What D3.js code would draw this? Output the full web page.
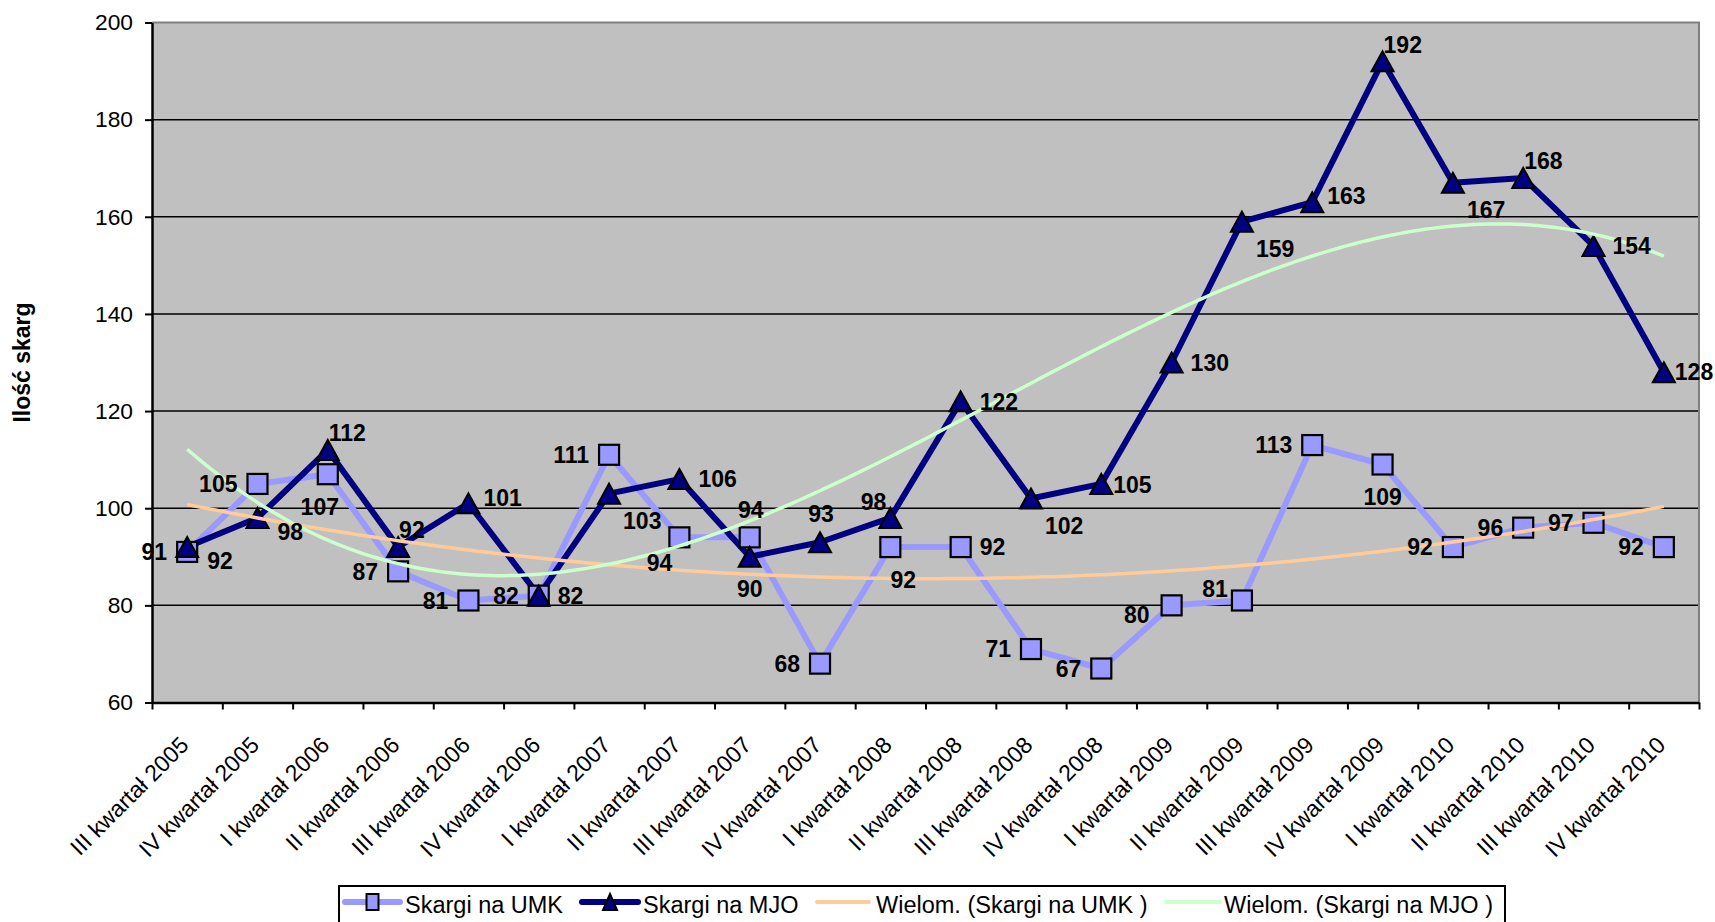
<!DOCTYPE html>
<html>
<head>
<meta charset="utf-8">
<script src="https://cdn.jsdelivr.net/npm/d3@7"></script>
<style>
  html, body { margin: 0; padding: 0; background: #ffffff; }
  svg { display: block; }
  text { font-family: Arial, "Liberation Sans", sans-serif; }
</style>
</head>
<body>
<svg id="chart" width="1715" height="922"></svg>
<script>
// ---------- data ----------
const categories = [
  "III kwartał 2005", "IV kwartał 2005", "I kwartał 2006", "II kwartał 2006",
  "III kwartał 2006", "IV kwartał 2006", "I kwartał 2007", "II kwartał 2007",
  "III kwartał 2007", "IV kwartał 2007", "I kwartał 2008", "II kwartał 2008",
  "III kwartał 2008", "IV kwartał 2008", "I kwartał 2009", "II kwartał 2009",
  "III kwartał 2009", "IV kwartał 2009", "I kwartał 2010", "II kwartał 2010",
  "III kwartał 2010", "IV kwartał 2010"
];
const skargiUMK = [91, 105, 107, 87, 81, 82, 111, 94, 94, 68, 92, 92, 71, 67, 80, 81, 113, 109, 92, 96, 97, 92];
const skargiMJO = [92, 98, 112, 92, 101, 82, 103, 106, 90, 93, 98, 122, 102, 105, 130, 159, 163, 192, 167, 168, 154, 128];
const yTicks = [60, 80, 100, 120, 140, 160, 180, 200];
const yTitle = "Ilość skarg";
const seriesNames = ["Skargi na UMK", "Skargi na MJO", "Wielom. (Skargi na UMK )", "Wielom. (Skargi na MJO )"];
const trendOrders = [2, 3];
// data label placement codes
const umkLabelPos = ["l","l","bw","l","l","l","l","bl","t","l","be","r","l","l","lb","tl2","l","b","l","l","l","l"];
const mjoLabelPos = ["rb","rb","tr","tr","ru","r","br","r","b","t","tl","r","br","rn","r","br","ru","tr","br","tr","r","r2"];

// ---------- layout ----------
const L = 152, R = 1699, T = 22.5, B = 702.5;
const colUMK = "#9999FF", colMJO = "#000080", colTrUMK = "#FFCC99", colTrMJO = "#CCFFCC";
const svg = d3.select("#chart");

const x = d3.scaleBand().domain(categories).range([L, R]).padding(0);
const cx = c => x(c) + x.bandwidth() / 2;
const xIdx = d3.scaleLinear().domain([1, categories.length]).range([cx(categories[0]), cx(categories[categories.length - 1])]);
const xEdge = d3.scaleLinear().domain([0, categories.length]).range([L, R]);
const y = d3.scaleLinear().domain([60, 200]).range([B, T]);

// plot background
svg.append("rect").attr("x", L).attr("y", T).attr("width", R - L).attr("height", B - T).attr("fill", "#C0C0C0");

// gridlines
svg.append("g").selectAll("line").data(yTicks.filter(v => v > 60 && v < 200)).join("line")
  .attr("x1", L).attr("x2", R).attr("y1", d => y(d)).attr("y2", d => y(d))
  .attr("stroke", "#000").attr("stroke-width", 1.5);

// top and right border
svg.append("path").attr("d", `M${L},${T}H${R}V${B}`).attr("fill", "none").attr("stroke", "#808080").attr("stroke-width", 2);

// y axis
const yAxis = d3.axisLeft(y).tickValues(yTicks).tickSize(7).tickPadding(12).tickSizeOuter(0);
const gy = svg.append("g").attr("transform", `translate(${L},0)`).call(yAxis);
gy.select(".domain").attr("stroke", "#000").attr("stroke-width", 2.5);
gy.selectAll(".tick line").attr("stroke", "#000").attr("stroke-width", 2);
gy.selectAll(".tick text").attr("font-size", "22.8px").attr("fill", "#000").attr("font-family", "Arial, 'Liberation Sans', sans-serif");

// x axis (ticks at category boundaries)
const xAxis = d3.axisBottom(xEdge).tickValues(d3.range(0, categories.length + 1)).tickSize(7).tickFormat("").tickSizeOuter(0);
const gx = svg.append("g").attr("transform", `translate(0,${B})`).call(xAxis);
gx.select(".domain").attr("stroke", "#000").attr("stroke-width", 2.5);
gx.selectAll(".tick line").attr("stroke", "#000").attr("stroke-width", 2);

// x labels rotated
svg.append("g").selectAll("text").data(categories).join("text")
  .attr("transform", d => `translate(${cx(d) + 3},${B + 44}) rotate(-45)`)
  .attr("text-anchor", "end")
  .attr("font-size", "23px").attr("fill", "#000")
  .text(d => d);

// y title
svg.append("text")
  .attr("transform", `translate(30,${(T + B) / 2}) rotate(-90)`)
  .attr("text-anchor", "middle").attr("font-weight", "bold").attr("font-size", "23px")
  .text(yTitle);

// ---------- series ----------
const line = d3.line().x((d, i) => cx(categories[i])).y(d => y(d));
svg.append("path").datum(skargiUMK).attr("d", line).attr("fill", "none")
  .attr("stroke", colUMK).attr("stroke-width", 6).attr("stroke-linejoin", "round");
svg.append("path").datum(skargiMJO).attr("d", line).attr("fill", "none")
  .attr("stroke", colMJO).attr("stroke-width", 6).attr("stroke-linejoin", "round");

const sq = 20;
svg.append("g").selectAll("rect").data(skargiUMK).join("rect")
  .attr("x", (d, i) => cx(categories[i]) - sq / 2).attr("y", d => y(d) - sq / 2)
  .attr("width", sq).attr("height", sq)
  .attr("fill", colUMK).attr("stroke", "#000").attr("stroke-width", 2.2);

const tri = (px, py, w, h) => `M${px},${py - h / 2}L${px + w / 2},${py + h / 2}L${px - w / 2},${py + h / 2}Z`;
svg.append("g").selectAll("path").data(skargiMJO).join("path")
  .attr("d", (d, i) => tri(cx(categories[i]), y(d), 22, 20))
  .attr("fill", colMJO).attr("stroke", "#000").attr("stroke-width", 2);

// ---------- polynomial trendlines (least squares fit of the data) ----------
function polyfit(vals, order) {
  const n = order + 1;
  const A = Array.from({length: n}, () => new Array(n + 1).fill(0));
  vals.forEach((v, i) => {
    const xv = i + 1;
    for (let r = 0; r < n; r++) {
      for (let c = 0; c < n; c++) A[r][c] += Math.pow(xv, r + c);
      A[r][n] += v * Math.pow(xv, r);
    }
  });
  for (let p = 0; p < n; p++) {
    let m = p;
    for (let r = p + 1; r < n; r++) if (Math.abs(A[r][p]) > Math.abs(A[m][p])) m = r;
    [A[p], A[m]] = [A[m], A[p]];
    for (let r = 0; r < n; r++) {
      if (r === p) continue;
      const f = A[r][p] / A[p][p];
      for (let c = p; c <= n; c++) A[r][c] -= f * A[p][c];
    }
  }
  return A.map((row, i) => row[n] / row[i]);
}
const polyVal = (co, xv) => co.reduce((s, c, k) => s + c * Math.pow(xv, k), 0);
const fineX = d3.range(1, categories.length + 0.001, 0.1);
const trendLine = d3.line().x(d => xIdx(d[0])).y(d => y(d[1])).curve(d3.curveLinear);
[[skargiUMK, trendOrders[0], colTrUMK], [skargiMJO, trendOrders[1], colTrMJO]].forEach(([vals, ord, col]) => {
  const co = polyfit(vals, ord);
  svg.append("path").datum(fineX.map(xv => [xv, polyVal(co, xv)]))
    .attr("d", trendLine).attr("fill", "none").attr("stroke", col).attr("stroke-width", 3.5);
});

// ---------- data labels ----------
const off = {
  l:   {dx: -20, dy: 0,   a: "end"},
  lb:  {dx: -22, dy: 9,   a: "end"},
  r:   {dx: 19,  dy: 0,   a: "start"},
  rn:  {dx: 12,  dy: 1,   a: "start"},
  ru:  {dx: 15,  dy: -6,  a: "start"},
  r2:  {dx: 11,  dy: 0,   a: "start"},
  rb:  {dx: 20,  dy: 14,  a: "start"},
  tr:  {dx: 1,   dy: -17, a: "start"},
  br:  {dx: 14,  dy: 27,  a: "start"},
  b:   {dx: 0,   dy: 32,  a: "middle"},
  bw:  {dx: -8,  dy: 33,  a: "middle"},
  be:  {dx: 13,  dy: 33,  a: "middle"},
  t:   {dx: 1,   dy: -28, a: "middle"},
  tl:  {dx: -4,  dy: -16, a: "end"},
  tl2: {dx: -14, dy: -12, a: "end"},
  bl:  {dx: -7,  dy: 25,  a: "end"}
};
function labels(vals, pos) {
  svg.append("g").selectAll("text").data(vals).join("text")
    .attr("x", (d, i) => cx(categories[i]) + off[pos[i]].dx)
    .attr("y", (d, i) => y(d) + off[pos[i]].dy)
    .attr("dy", "0.36em")
    .attr("text-anchor", (d, i) => off[pos[i]].a)
    .attr("font-weight", "bold").attr("font-size", "23px").attr("fill", "#000")
    .text(d => d);
}
labels(skargiUMK, umkLabelPos);
labels(skargiMJO, mjoLabelPos);

// ---------- legend ----------
const lg = svg.append("g");
lg.append("rect").attr("x", 339).attr("y", 886).attr("width", 1505 - 339).attr("height", 50)
  .attr("fill", "#fff").attr("stroke", "#000").attr("stroke-width", 2);
const ly = 902, lt = 913;
const legendItems = [
  {x0: 345, x1: 400, col: colUMK, w: 6, marker: "sq", tx: 405},
  {x0: 582, x1: 638, col: colMJO, w: 6, marker: "tri", tx: 643},
  {x0: 817, x1: 869, col: colTrUMK, w: 4, marker: null, tx: 876},
  {x0: 1166, x1: 1220, col: colTrMJO, w: 4, marker: null, tx: 1224}
];
legendItems.forEach((it, k) => {
  lg.append("line").attr("x1", it.x0).attr("x2", it.x1).attr("y1", ly).attr("y2", ly)
    .attr("stroke", it.col).attr("stroke-width", it.w).attr("stroke-linecap", "round");
  const mx = (it.x0 + it.x1) / 2;
  if (it.marker === "sq") {
    lg.append("rect").attr("x", mx - 6).attr("y", ly - 8).attr("width", 12).attr("height", 16)
      .attr("fill", colUMK).attr("stroke", "#000").attr("stroke-width", 2);
  } else if (it.marker === "tri") {
    lg.append("path").attr("d", tri(mx, ly, 14, 16)).attr("fill", colMJO).attr("stroke", "#000").attr("stroke-width", 2);
  }
  lg.append("text").attr("x", it.tx).attr("y", lt).attr("font-size", "23.5px").attr("fill", "#000").text(seriesNames[k]);
});
</script>
</body>
</html>
